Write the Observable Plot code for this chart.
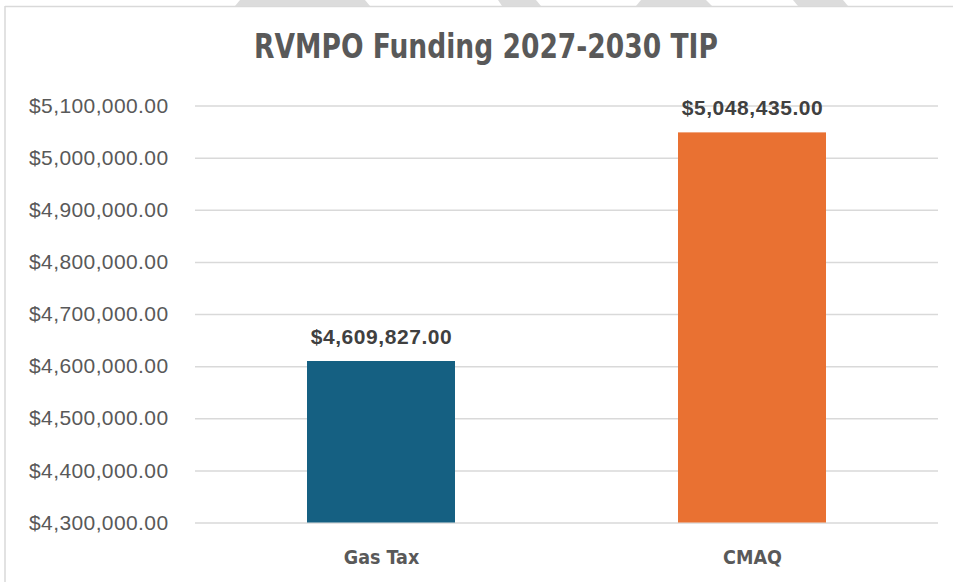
<!DOCTYPE html>
<html>
<head>
<meta charset="utf-8">
<script src="https://cdn.jsdelivr.net/npm/d3@7"></script>
<script src="https://cdn.jsdelivr.net/npm/@observablehq/plot@0.6"></script>
<style>
  html, body { margin: 0; padding: 0; background: #fff; }
  #wrap { position: relative; width: 953px; height: 582px; overflow: hidden; }
  #deco { position: absolute; left: 0; top: 0; }
  #title {
    position: absolute; left: 0; top: 27px; width: 972px; text-align: center;
    font-family: "Liberation Sans Narrow", "DejaVu Sans Condensed", sans-serif;
    font-weight: bold; font-size: 33px; color: #595959; line-height: 40px;
    transform: scaleX(0.894); transform-origin: 486px 50%;
  }
  #chart { position: absolute; left: 0; top: 0; }
</style>
</head>
<body>
<div id="wrap">
  <svg id="deco" width="953" height="582">
    <polygon points="235,6 240,0 365,0 370,6" fill="#dcdcdc"/>
    <polygon points="502,6 498,0 536,0 541,6" fill="#dcdcdc"/>
    <polygon points="636,6 641,0 706,0 712,6" fill="#dcdcdc"/>
    <polygon points="798,6 793,0 843,0 848,6" fill="#dcdcdc"/>
    <line x1="5" y1="6.5" x2="953" y2="6.5" stroke="#d9d9d9" stroke-width="1.5"/>
    <line x1="5" y1="6" x2="5" y2="582" stroke="#d9d9d9" stroke-width="1.5"/>
  </svg>
  <div id="chart"></div>
  <div id="title">RVMPO Funding 2027-2030 TIP</div>
</div>
<script>
const categories = ["Gas Tax", "CMAQ"];
const values = [4609827, 5048435];
const colors = ["#156082", "#e97132"];
const yTicks = [4300000, 4400000, 4500000, 4600000, 4700000, 4800000, 4900000, 5000000, 5100000];
const yMin = 4300000;
const yMax = 5100000;

const data = categories.map((c, i) => ({category: c, value: values[i], color: colors[i]}));
const fmt = d3.format("$,.2f");

const chart = Plot.plot({
  width: 953,
  height: 582,
  marginLeft: 195,
  marginRight: 15,
  marginTop: 105.5,
  marginBottom: 59.5,
  style: {background: "transparent", fontFamily: "'Liberation Sans', Arial, sans-serif"},
  x: {domain: categories, paddingInner: 0.6, paddingOuter: 0.3, label: null, axis: null},
  y: {domain: [yMin, yMax], ticks: yTicks, label: null, axis: null},
  marks: [
    Plot.gridY(yTicks, {stroke: "#d9d9d9", strokeOpacity: 1, strokeWidth: 1.5}),
    Plot.barY(data, {x: "category", y1: yMin, y2: "value", fill: "color"}),
    Plot.axisY(yTicks, {
      tickSize: 0, tickPadding: 27, tickFormat: fmt, label: null,
      fontSize: 21, fill: "#595959"
    }),
    Plot.axisX({
      tickSize: 0, tickPadding: 27, label: null,
      fontSize: 19.5, fontWeight: "bold", fill: "#595959",
      fontFamily: "'Liberation Sans Narrow', 'DejaVu Sans Condensed', sans-serif"
    }),
    Plot.text(data, {
      x: "category", y: "value", text: d => fmt(d.value),
      lineAnchor: "bottom", dy: -18, fontSize: 21, fontWeight: "bold", fill: "#404040"
    })
  ]
});
d3.select(chart).selectAll("text")
  .filter(function() { return this.textContent.startsWith("$"); })
  .style("letter-spacing", function() {
    const g = this.closest("g[font-weight]");
    return g && g.getAttribute("font-weight") === "bold" ? "0.55px" : "0.4px";
  });
document.getElementById("chart").appendChild(chart);
</script>
</body>
</html>
